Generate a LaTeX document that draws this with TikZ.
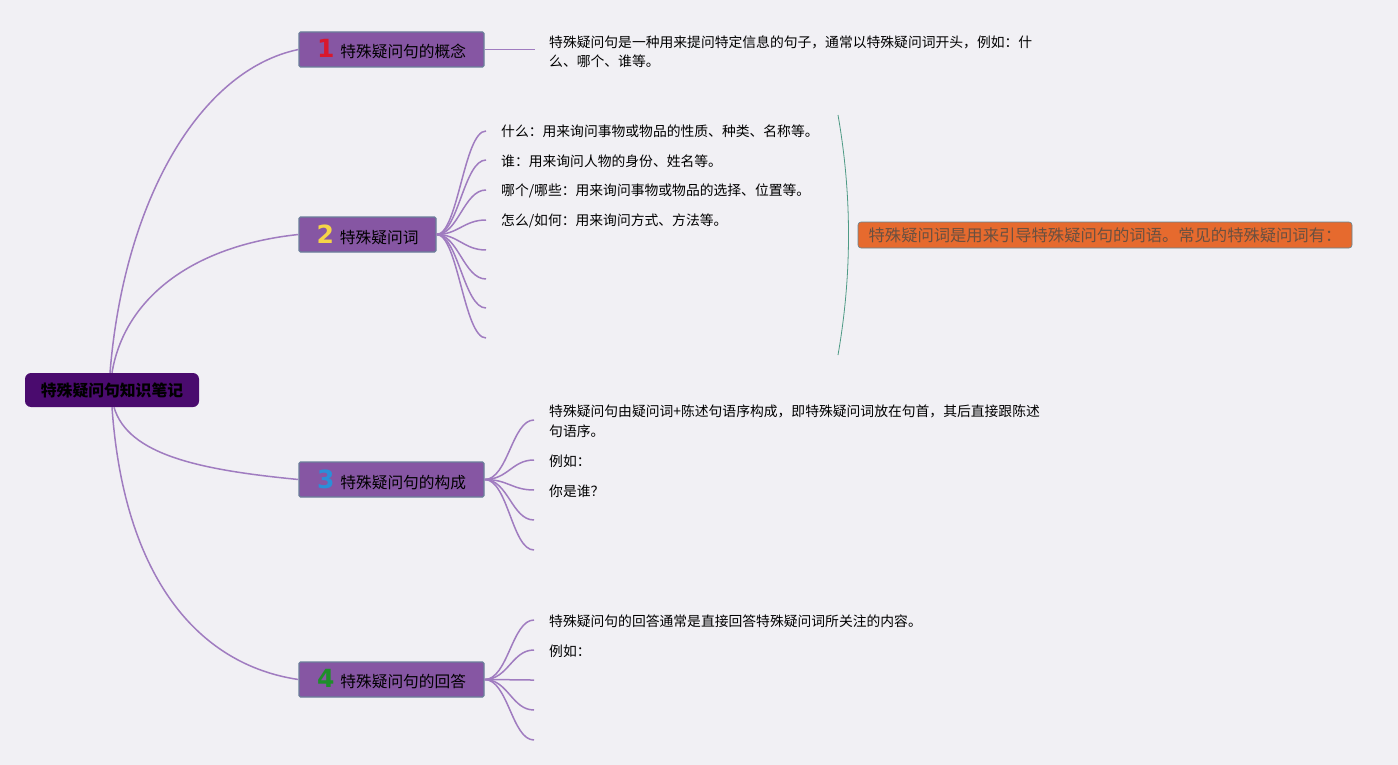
\documentclass[tikz,border=0pt]{standalone}
\usepackage{fontspec}
\newfontfamily\cjk{Noto Sans CJK SC}
\newfontfamily\numfont{DejaVu Sans}
\newcommand{\bnum}[2]{{\numfont\bfseries\fontsize{25}{25}\selectfont\color{#1}#2}}
\definecolor{bgc}{HTML}{F1F0F4}
\definecolor{rootc}{HTML}{4A0B6E}
\definecolor{branchc}{HTML}{8656A3}
\definecolor{branchd}{HTML}{6B7E9A}
\definecolor{edgec}{HTML}{A07CC0}
\definecolor{numred}{HTML}{D9182D}
\definecolor{numyel}{HTML}{F5D547}
\definecolor{numblu}{HTML}{2A8FD8}
\definecolor{numgrn}{HTML}{1E8E2A}
\definecolor{bracec}{HTML}{4E9A85}
\definecolor{orangec}{HTML}{E66A2E}
\definecolor{orangetxt}{HTML}{6A5040}
\begin{document}
\begin{tikzpicture}[x=1pt,y=-1pt,
  rootbox/.style={fill=rootc, rounded corners=6pt, minimum width=174pt, minimum height=34pt, inner sep=0pt, font=\cjk\bfseries\fontsize{15.8}{17}\selectfont, text=black},
  branchbox/.style={fill=branchc, draw=branchd, line width=1.2pt, rounded corners=1.5pt, minimum height=35pt, inner sep=0pt, font=\cjk\fontsize{15.7}{17}\selectfont, text=black},
  edge/.style={draw=edgec, line width=1.5pt},
  leaftext/.style={anchor=west, inner sep=0pt, align=left, font=\cjk\fontsize{13.8}{19.5}\selectfont, text=black}
]
\fill[bgc] (0,0) rectangle (1398,765);
\useasboundingbox (0,0) rectangle (1398,765);

% root
\node[rootbox] (root) at (112,390) {特殊疑问句知识笔记};

% branches
\node[branchbox, minimum width=185pt] (n1) at (391.5,49.5) {\bnum{numred}{1}\hspace{6pt}特殊疑问句的概念};
\node[branchbox, minimum width=137pt] (n2) at (367.5,234.5) {\bnum{numyel}{2}\hspace{6pt}特殊疑问词};
\node[branchbox, minimum width=185pt] (n3) at (391.5,479.5) {\bnum{numblu}{3}\hspace{6pt}特殊疑问句的构成};
\node[branchbox, minimum width=185pt] (n4) at (391.5,679.5) {\bnum{numgrn}{4}\hspace{6pt}特殊疑问句的回答};

% root connectors
\draw[edge] ([xshift=-2pt]root.north) .. controls (124,200) and (200,70) .. (n1.west);
\draw[edge] ([xshift=0pt]root.north) .. controls (124,300) and (190,246) .. (n2.west);
\draw[edge] ([xshift=2pt]root.south) .. controls (128,455) and (200,470) .. (n3.west);
\draw[edge] ([xshift=0pt]root.south) .. controls (124,580) and (200,665) .. (n4.west);

% branch 1
\coordinate (e1) at (535,49.5);
\draw[edge] (n1.east) -- (e1);
\node[leaftext] (t1) at (549,51.5) {特殊疑问句是一种用来提问特定信息的句子，通常以特殊疑问词开头，例如：什\\么、哪个、谁等。};

% branch 2 fan
\foreach \i/\yy in {1/131,2/160,3/190,4/220,5/250,6/279,7/308,8/338}{
  \coordinate (b\i) at (486,\yy);
  \draw[edge] (n2.east) .. controls (458,234.5) and (464,\yy) .. (b\i);
}
\node[leaftext] (w1) at (501,131) {什么：用来询问事物或物品的性质、种类、名称等。};
\node[leaftext] (w2) at (501,161) {谁：用来询问人物的身份、姓名等。};
\node[leaftext] (w3) at (501,191) {哪个/哪些：用来询问事物或物品的选择、位置等。};
\node[leaftext] (w4) at (501,221) {怎么/如何：用来询问方式、方法等。};

% brace and summary
\coordinate (br1) at (838,115);
\coordinate (br2) at (838,355);
\draw[draw=bracec, line width=0.8pt] (br1) .. controls (852,195) and (852,275) .. (br2);
\node[fill=orangec, draw=branchd!70!bracec, line width=0.6pt, rounded corners=3pt, minimum width=494pt, minimum height=26pt, inner sep=0pt, font=\cjk\fontsize{16.3}{18}\selectfont, text=orangetxt] (sum) at (1105,235) {特殊疑问词是用来引导特殊疑问句的词语。常见的特殊疑问词有：};

% branch 3 fan
\foreach \i/\yy in {1/420,2/460,3/490,4/520,5/550}{
  \coordinate (c\i) at (534,\yy);
  \draw[edge] (n3.east) .. controls (508,479.5) and (512,\yy) .. (c\i);
}
\node[leaftext] (s1) at (549,421) {特殊疑问句由疑问词+陈述句语序构成，即特殊疑问词放在句首，其后直接跟陈述\\句语序。};
\node[leaftext] (s2) at (549,461) {例如：};
\node[leaftext] (s3) at (549,491) {你是谁？};

% branch 4 fan
\foreach \i/\yy in {1/620,2/650,3/680,4/710,5/740}{
  \coordinate (d\i) at (534,\yy);
  \draw[edge] (n4.east) .. controls (508,679.5) and (512,\yy) .. (d\i);
}
\node[leaftext] (a1) at (549,621) {特殊疑问句的回答通常是直接回答特殊疑问词所关注的内容。};
\node[leaftext] (a2) at (549,651) {例如：};
\end{tikzpicture}
\end{document}
